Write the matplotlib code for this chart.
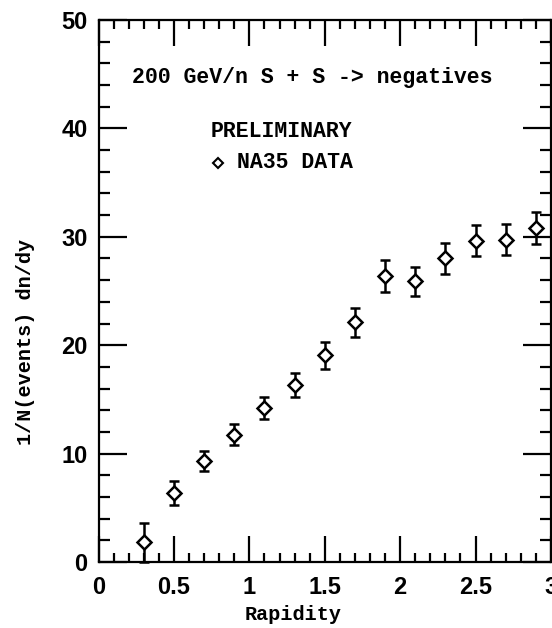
import matplotlib
matplotlib.use("Agg")
import matplotlib.pyplot as plt
from matplotlib.ticker import MultipleLocator

rapidity = [0.3, 0.5, 0.7, 0.9, 1.1, 1.3, 1.5, 1.7, 1.9, 2.1, 2.3, 2.5, 2.7, 2.9]
dndy = [1.8, 6.35, 9.3, 11.75, 14.2, 16.3, 19.05, 22.1, 26.4, 25.9, 28.0, 29.65, 29.75, 30.8]
err = [1.8, 1.1, 0.9, 1.0, 1.0, 1.1, 1.25, 1.3, 1.5, 1.35, 1.4, 1.45, 1.4, 1.45]

xticks = [0, 0.5, 1, 1.5, 2, 2.5, 3]
xticklabels = ["0", "0.5", "1", "1.5", "2", "2.5", "3"]
yticks = [0, 10, 20, 30, 40, 50]
yticklabels = ["0", "10", "20", "30", "40", "50"]

fig = plt.figure(figsize=(5.52, 6.28), dpi=100)
ax = fig.add_axes([98.5/552, 66/628, 452.5/552, 542/628])

ax.errorbar(rapidity, dndy, yerr=err, fmt='D', ms=7.5, mfc='white', mec='black',
            mew=1.8, ecolor='black', elinewidth=1.8, capsize=3.5, capthick=1.8,
            color='black', clip_on=False, zorder=3)

ax.set_xlim(0, 3)
ax.set_ylim(0, 50)
ax.set_xticks(xticks)
ax.set_xticklabels(xticklabels)
ax.set_yticks(yticks)
ax.set_yticklabels(yticklabels)
ax.xaxis.set_minor_locator(MultipleLocator(0.1))
ax.yaxis.set_minor_locator(MultipleLocator(2))
ax.tick_params(which='both', direction='in', top=True, right=True, width=1.6, colors='black')
ax.tick_params(axis='x', which='major', length=19, pad=10)
ax.tick_params(axis='x', which='minor', length=6.5)
ax.tick_params(axis='y', which='major', length=20.5, pad=8)
ax.tick_params(axis='y', which='minor', length=8)
for lab in ax.get_xticklabels() + ax.get_yticklabels():
    lab.set_fontfamily('Liberation Sans')
    lab.set_fontweight('bold')
    lab.set_fontsize(17)
for s in ax.spines.values():
    s.set_linewidth(1.6)

mono = 'Liberation Mono'

def px(x, y):
    return (x/552, 1 - y/628)

fig.text(*px(132, 77), "200 GeV/n S + S -> negatives", fontfamily=mono, fontweight='bold',
         fontsize=15.5, va='center', ha='left')
fig.text(*px(211, 132), "PRELIMINARY", fontfamily=mono, fontweight='bold',
         fontsize=15.5, va='center', ha='left')
fig.text(*px(237, 163), "NA35 DATA", fontfamily=mono, fontweight='bold',
         fontsize=15.5, va='center', ha='left')
fig.lines.append(plt.Line2D([218/552], [1 - 163/628], marker='D', ms=5.5, mfc='white',
                            mec='black', mew=1.5, transform=fig.transFigure, figure=fig))

fig.text(*px(293, 614), "Rapidity", fontfamily=mono, fontweight='bold', fontsize=14.5,
         ha='center', va='center')
fig.text(*px(26, 342), "1/N(events) dn/dy", fontfamily=mono, fontweight='bold', fontsize=14.5,
         ha='center', va='center', rotation=90)

fig.savefig("out.png", dpi=100)
